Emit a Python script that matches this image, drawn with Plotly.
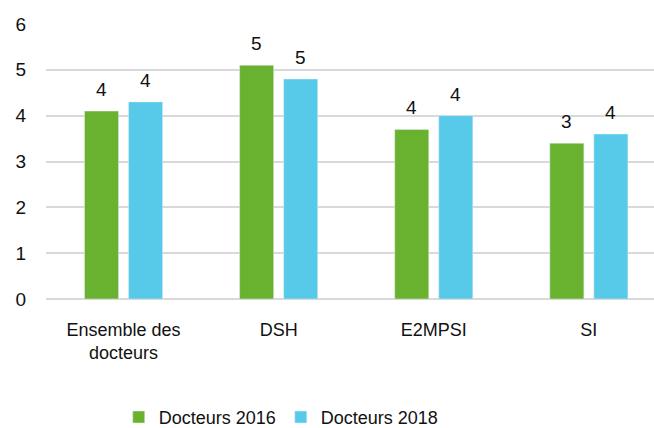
import plotly.graph_objects as go

categories = ["Ensemble des<br>docteurs", "DSH", "E2MPSI", "SI"]
docteurs_2016 = [4.1, 5.1, 3.7, 3.4]
docteurs_2018 = [4.3, 4.8, 4.0, 3.6]
labels_2016 = ["4", "5", "4", "3"]
labels_2018 = ["4", "5", "4", "4"]
y_ticks = [0, 1, 2, 3, 4, 5, 6]

FONT = "Liberation Sans Narrow, Arial Narrow, Liberation Sans, Arial, sans-serif"
GREEN = "#68B22F"
CYAN = "#56CAE8"

fig = go.Figure()
fig.add_bar(x=categories, y=docteurs_2016, name="Docteurs 2016", marker_color=GREEN)
fig.add_bar(x=categories, y=docteurs_2018, name="Docteurs 2018", marker_color=CYAN)

for cat, v, t in zip(categories, docteurs_2016, labels_2016):
    fig.add_annotation(x=cat, y=v, text=t, showarrow=False, xshift=-22, yshift=9,
                       yanchor="bottom", font=dict(family=FONT, size=19, color="#111"))
for cat, v, t in zip(categories, docteurs_2018, labels_2018):
    fig.add_annotation(x=cat, y=v, text=t, showarrow=False, xshift=22, yshift=9,
                       yanchor="bottom", font=dict(family=FONT, size=19, color="#111"))

fig.update_layout(
    width=654, height=428,
    margin=dict(l=46, r=0, t=24, b=129),
    paper_bgcolor="white", plot_bgcolor="white",
    barmode="group", bargap=0.432, bargroupgap=0.227,
    font=dict(family=FONT, size=18, color="#111"),
    showlegend=True,
    legend=dict(orientation="h", x=0.43, xanchor="center", xref="container",
                y=0.025, yanchor="middle", yref="container",
                font=dict(family=FONT, size=18), itemwidth=30, traceorder="normal"),
)
fig.update_xaxes(range=[-0.5, 3.42], showline=False, ticks="", showgrid=False,
                 automargin=False, ticklabelstandoff=18,
                 tickfont=dict(family=FONT, size=18))
fig.update_yaxes(range=[0, 6], tickvals=y_ticks, showgrid=True, gridcolor="#D9D9D9",
                 gridwidth=1.5, zeroline=True, zerolinecolor="#D9D9D9", zerolinewidth=1.5,
                 showline=False, ticks="", ticklabelstandoff=19, automargin=False,
                 tickfont=dict(family=FONT, size=19))

fig.write_html("out.html", config={"displayModeBar": False},
               post_script="document.body.style.margin='0';document.body.style.padding='0';")
